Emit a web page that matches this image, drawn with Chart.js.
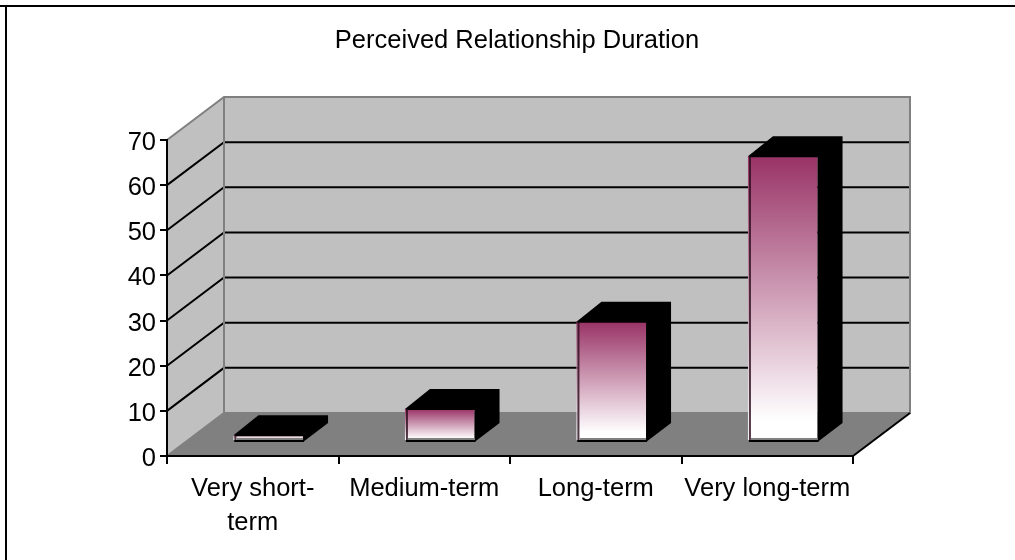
<!DOCTYPE html>
<html>
<head>
<meta charset="utf-8">
<title>Perceived Relationship Duration</title>
<script src="https://cdn.jsdelivr.net/npm/chart.js@4"></script>
<style>
  html, body { margin: 0; padding: 0; background: #fff; }
  canvas { display: block; }
</style>
</head>
<body>
<canvas id="chart" width="1015" height="560"></canvas>
<script>
const chartTitle = "Perceived Relationship Duration";
const categories = [["Very short-", "term"], "Medium-term", "Long-term", "Very long-term"];
const values = [1.3, 7.1, 26.4, 63.1];
const yTicks = [0, 10, 20, 30, 40, 50, 60, 70];
const faceTopColors = ["#dcbccb", "#993366", "#993366", "#993366"];

const fontName = "'Liberation Sans', Arial, sans-serif";
const wallDepth = { x: 57, y: -43 };
const barShift = { x: 16, y: -15 };
const barDepth = { x: 25, y: -19 };

function faceGradient(ctx, i, top, bottom) {
  const g = ctx.createLinearGradient(0, top, 0, bottom);
  g.addColorStop(0, faceTopColors[i]);
  g.addColorStop(0.93, "#ffffff");
  g.addColorStop(1, "#ffffff");
  return g;
}

const box3d = {
  id: "box3d",
  beforeDraw(chart) {
    const { ctx, chartArea: a, scales } = chart;
    const dx = wallDepth.x, dy = wallDepth.y;
    ctx.save();

    // outer frame, only top and left are visible
    ctx.fillStyle = "#000";
    ctx.fillRect(0, 5, 1015, 2);
    ctx.fillRect(5, 5, 2, 555);

    // walls
    ctx.fillStyle = "#c0c0c0";
    ctx.fillRect(a.left + dx, a.top + dy, a.width, a.height);
    ctx.beginPath();
    ctx.moveTo(a.left, a.top);
    ctx.lineTo(a.left + dx, a.top + dy);
    ctx.lineTo(a.left + dx, a.bottom + dy);
    ctx.lineTo(a.left, a.bottom);
    ctx.closePath();
    ctx.fill();

    // floor
    ctx.fillStyle = "#808080";
    ctx.beginPath();
    ctx.moveTo(a.left, a.bottom);
    ctx.lineTo(a.left + dx, a.bottom + dy);
    ctx.lineTo(a.right + dx, a.bottom + dy);
    ctx.lineTo(a.right, a.bottom);
    ctx.closePath();
    ctx.fill();

    // gridlines
    ctx.strokeStyle = "#000";
    ctx.lineWidth = 2;
    yTicks.slice(1, -1).forEach((v) => {
      const y = scales.y.getPixelForValue(v);
      ctx.beginPath();
      ctx.moveTo(a.left, y);
      ctx.lineTo(a.left + dx, y + dy);
      ctx.lineTo(a.right + dx, y + dy);
      ctx.stroke();
    });

    // wall edges
    ctx.strokeStyle = "#808080";
    ctx.beginPath();
    ctx.moveTo(a.left, a.top);
    ctx.lineTo(a.left + dx, a.top + dy);
    ctx.lineTo(a.right + dx, a.top + dy);
    ctx.lineTo(a.right + dx, a.bottom + dy);
    ctx.lineTo(a.left + dx, a.bottom + dy);
    ctx.lineTo(a.left, a.bottom);
    ctx.moveTo(a.left + dx, a.top + dy);
    ctx.lineTo(a.left + dx, a.bottom + dy);
    ctx.stroke();

    // floor front right edge
    ctx.strokeStyle = "#000";
    ctx.beginPath();
    ctx.moveTo(a.right, a.bottom);
    ctx.lineTo(a.right + dx, a.bottom + dy);
    ctx.stroke();

    // title
    ctx.fillStyle = "#000";
    ctx.font = "25.5px " + fontName;
    ctx.textAlign = "center";
    ctx.textBaseline = "middle";
    ctx.fillText(chartTitle, 517, 41);
    ctx.restore();
  },
  beforeDatasetsDraw(chart) {
    chart.ctx.save();
    chart.ctx.translate(barShift.x, barShift.y);
  },
  afterDatasetsDraw(chart) {
    const ctx = chart.ctx;
    chart.getDatasetMeta(0).data.forEach((bar, i) => {
      const left = bar.x - bar.width / 2;
      const right = bar.x + bar.width / 2;
      const top = bar.y;
      const base = bar.base;

      // black top and side of the box
      ctx.fillStyle = "#000";
      ctx.beginPath();
      ctx.moveTo(left - 1, top);
      ctx.lineTo(left - 1 + barDepth.x, top + barDepth.y - 1);
      ctx.lineTo(right + barDepth.x, top + barDepth.y - 1);
      ctx.lineTo(right + barDepth.x, base + 2 + barDepth.y);
      ctx.lineTo(right, base + 2);
      ctx.lineTo(right, top + 1);
      ctx.lineTo(left - 1, top + 1);
      ctx.closePath();
      ctx.fill();

      // left edge highlight and dark line
      ctx.fillStyle = faceGradient(ctx, i, top, base);
      ctx.fillRect(left - 1, top, 1, base - top);
      ctx.fillStyle = "rgba(40,10,25,0.8)";
      ctx.fillRect(left, top, 2, base - top + 2);

      // bottom edge
      ctx.fillStyle = "#808080";
      ctx.fillRect(left + 2, base - 2, bar.width - 2, 2);
      ctx.fillStyle = "#000";
      ctx.fillRect(left, base, bar.width + 1, 2);
    });
    ctx.restore();
  }
};

new Chart(document.getElementById("chart"), {
  type: "bar",
  data: {
    labels: categories,
    datasets: [{
      data: values,
      borderWidth: 0,
      clip: false,
      categoryPercentage: 0.4,
      barPercentage: 1,
      backgroundColor: (c) => {
        const y = c.chart.scales.y;
        if (!y || c.dataIndex === undefined) return "#993366";
        const top = y.getPixelForValue(values[c.dataIndex]);
        const bottom = y.getPixelForValue(0);
        if (!isFinite(top) || !isFinite(bottom)) return "#993366";
        return faceGradient(c.chart.ctx, c.dataIndex, top, bottom);
      }
    }]
  },
  options: {
    responsive: false,
    animation: false,
    layout: { padding: { top: 140, right: 162 } },
    plugins: { legend: { display: false }, tooltip: { enabled: false } },
    scales: {
      x: {
        afterFit: (s) => { s.height = 104; },
        border: { color: "#000", width: 2 },
        grid: { drawOnChartArea: false, color: "#000", lineWidth: 2, tickLength: 8 },
        ticks: {
          color: "#000",
          padding: 8,
          autoSkip: false,
          maxRotation: 0,
          font: { family: fontName, size: 25.5, lineHeight: 1.34 }
        }
      },
      y: {
        min: 0,
        max: 70,
        afterFit: (s) => { s.width = 167; },
        afterBuildTicks: (s) => { s.ticks = yTicks.map((v) => ({ value: v })); },
        border: { color: "#000", width: 2 },
        grid: { drawOnChartArea: false, color: "#000", lineWidth: 2, tickLength: 7 },
        ticks: {
          color: "#000",
          padding: 4,
          labelOffset: 3,
          font: { family: fontName, size: 25.5 }
        }
      }
    }
  },
  plugins: [box3d]
});
</script>
</body>
</html>
